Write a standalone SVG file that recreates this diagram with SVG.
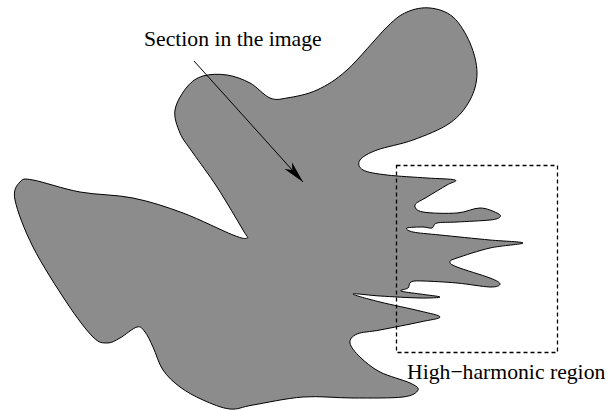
<svg xmlns="http://www.w3.org/2000/svg" width="608" height="410" viewBox="0 0 608 410">
<style>
.blob{fill:#8c8c8c;stroke:#000;stroke-width:1;stroke-linejoin:round}
.box{fill:none;stroke:#000;stroke-width:1.3;stroke-dasharray:4,3}
.lbl{font-family:"Liberation Serif","Times New Roman",serif;font-size:21.7px;fill:#000}
.conn{fill:none;stroke:#000;stroke-width:1}
</style>
<defs>
<marker id="ah" markerUnits="userSpaceOnUse" viewBox="-23 -6 24 12" markerWidth="24" markerHeight="12" refX="0" refY="0" orient="auto">
<path d="M0,0 L-22,-5 L-16,0 L-22,5 Z" fill="#000"/>
</marker>
</defs>
<g id="section">
<path class="blob" d="M33,180 C43,181.7 63.3,189 80,192 S115.8,194.5 133,198 S166.3,206.8 183,213 S222.3,230.8 233,235 S245.3,238.8 247,238 S248,238.5 243,230 S225.3,199.8 217,187 S199.2,162 193,153 S183,140.2 180,133 S173.8,117.7 175,110 S182.3,92.7 187,87 S196.3,78 203,76 S219.2,73.8 227,75 S242.8,79.2 250,83 S263.8,95.5 270,98 S279.2,99.3 287,98 S307,94.7 317,90 S335.3,80.5 347,70 S377,36.7 387,27 S399.8,15.2 407,12 S422.3,7.2 430,8 S446.3,11.2 453,17 S466,33.7 470,43 S477,63.5 477,73 S474.5,91.7 470,100 S459.5,116.3 450,123 S425.2,135.5 413,140 S385.8,146.7 377,150 S362.3,156.7 360,160 S358.5,167.5 363,170 S376.3,173.7 387,175 S415.7,177.2 427,178 S451.7,178.8 455,180 S451.7,182.2 447,185 S432.3,193.7 427,197 S415.7,202.5 415,205 S416,210.7 423,212 S447.5,213.7 457,213 S473.3,208 480,208 S493.7,211.5 497,213 S501.2,215.8 500,217 S497.2,219.2 490,220 S465.8,221.5 457,222 S441.2,222 437,223 S434.3,227.3 432,228 S427.2,227 423,227 S408.7,227.2 407,228 S407.5,230.8 413,232 S427.2,233.7 440,235 S476.2,238.7 490,240 S523,241.7 523,243 S501,245.5 490,248 S463.7,255.7 457,258 S450,260.5 450,262 S450.3,264.3 457,267 S482.8,275.2 490,278 S500,282.5 500,284 S497.2,287.2 490,287 S468.2,284 457,283 S430.7,281.2 423,281 S413.5,280.8 411,282 S409.7,286.5 408,288 S399,290 401,291 S413.5,293 420,294 S440,296.3 440,297 S430,298.2 420,298 S391.2,296.7 380,296 S353,293 353,294 S368.8,299.2 380,302 S410,308.5 420,311 S440,315.2 440,317 S430,319.8 420,322 S390.5,328 380,330 S362,331.8 357,334 S349.5,339.2 350,343 S355,352.2 360,357 S371.7,367.7 380,372 S403.7,380 410,383 S419.2,387.7 418,390 S413.8,395.7 403,397 S369.7,398 353,398 S319.7,395.8 303,397 S265.2,403 253,405 S238.3,409.8 230,409 S211.3,403.7 203,400 S186.7,392 180,387 S167.5,376.7 163,370 S156,353.3 153,347 S147.7,335.3 145,332 S141.2,326 137,327 S125,335.3 120,338 S111.5,343.2 107,343 S99.7,343.7 93,337 S77,318 67,303 S41.7,264.2 33,247 S17.2,210.8 15,200 S17,185.3 20,182 S23,178.3 33,180 Z"/>
</g>
<g id="region">
<rect class="box" x="396.5" y="165.5" width="161" height="187"/>
</g>
<g id="label-section">
<text class="lbl" x="144" y="46">Section in the image</text>
</g>
<g id="label-region">
<text class="lbl" x="407" y="379">High−harmonic region</text>
</g>
<g id="connectors">
<line class="conn" x1="194" y1="61" x2="303" y2="182" marker-end="url(#ah)"/>
</g>
</svg>
